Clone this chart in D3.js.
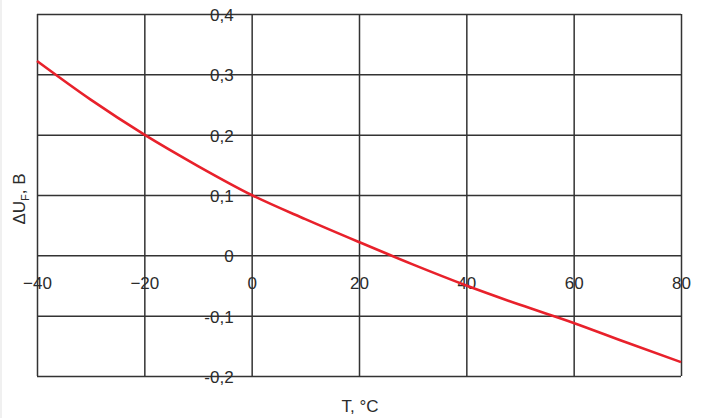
<!DOCTYPE html>
<html>
<head>
<meta charset="utf-8">
<script src="https://cdn.jsdelivr.net/npm/d3@7"></script>
<style>
  html, body { margin: 0; padding: 0; background: #fff; }
  svg { display: block; }
  text { font-family: "Liberation Sans", Arial, sans-serif; }
</style>
</head>
<body>
<svg id="chart" width="702" height="418"></svg>
<script>
// ---- data ----
const temps = [-40, -30, -20, -10, 0, 10, 20, 30, 40, 50, 60, 70, 80];
const deltaU = [0.322, 0.258, 0.200, 0.148, 0.100, 0.060, 0.022, -0.015, -0.050, -0.082, -0.112, -0.145, -0.177];
const xTicks = [-40, -20, 0, 20, 40, 60, 80];
const xTickLabels = ["\u221240", "\u221220", "0", "20", "40", "60", "80"];
const yTicks = [-0.2, -0.1, 0, 0.1, 0.2, 0.3, 0.4];
const yTickLabels = ["-0,2", "-0,1", "0", "0,1", "0,2", "0,3", "0,4"];
const xTitle = "T, °C";

// ---- layout ----
const svg = d3.select("#chart");
const mLeft = 37, mRight = 681, mTop = 14, mBottom = 376;
const x = d3.scaleLinear().domain([-40, 80]).range([mLeft, mRight]);
const y = d3.scaleLinear().domain([-0.2, 0.4]).range([mBottom, mTop]);
const gridColor = "#333";
const textColor = "#2b2b2b";

// light strip on the far left
svg.append("rect").attr("x", 0).attr("y", 0).attr("width", 2).attr("height", 418).attr("fill", "#f0f0f0");

// vertical grid via axis
const gx = svg.append("g").attr("transform", `translate(0,${mBottom})`)
  .call(d3.axisBottom(x).tickValues(xTicks).tickSize(-(mBottom - mTop)).tickFormat(""));
gx.select(".domain").remove();
gx.selectAll("line").attr("stroke", gridColor).attr("stroke-width", 1.5);

// horizontal grid via axis
const gy = svg.append("g").attr("transform", `translate(${mLeft},0)`)
  .call(d3.axisLeft(y).tickValues(yTicks).tickSize(-(mRight - mLeft)).tickFormat(""));
gy.select(".domain").remove();
gy.selectAll("line").attr("stroke", gridColor).attr("stroke-width", 1.5);

// x tick labels along the zero line
const xl = svg.append("g").attr("transform", `translate(0,${y(0)})`)
  .call(d3.axisBottom(x).tickValues(xTicks).tickSize(0).tickPadding(0)
    .tickFormat((d, i) => xTickLabels[i]));
xl.select(".domain").remove();
xl.selectAll("text").attr("font-size", 17).attr("fill", textColor)
  .attr("font-family", "Liberation Sans, Arial, sans-serif")
  .attr("y", 34).attr("dy", 0);

// y tick labels next to the zero vertical line
const yl = svg.append("g").attr("transform", `translate(${x(0) - 18},0)`)
  .call(d3.axisLeft(y).tickValues(yTicks).tickSize(0).tickPadding(0)
    .tickFormat((d, i) => yTickLabels[i]));
yl.select(".domain").remove();
yl.selectAll("text").attr("font-size", 17).attr("fill", textColor)
  .attr("font-family", "Liberation Sans, Arial, sans-serif")
  .attr("x", 0).attr("dy", "0.38em");

// curve
const line = d3.line().x(d => x(d[0])).y(d => y(d[1])).curve(d3.curveMonotoneX);
svg.append("path")
  .datum(temps.map((t, i) => [t, deltaU[i]]))
  .attr("d", line)
  .attr("fill", "none")
  .attr("stroke", "#e8212b")
  .attr("stroke-width", 2.6);

// axis titles
svg.append("text").attr("x", 360).attr("y", 412).attr("text-anchor", "middle")
  .attr("font-size", 17).attr("fill", textColor).text(xTitle);

const yt = svg.append("text")
  .attr("transform", "translate(25,199) rotate(-90)")
  .attr("text-anchor", "middle").attr("font-size", 17).attr("fill", textColor);
yt.append("tspan").text("\u0394U");
yt.append("tspan").attr("font-size", 11).attr("dy", 4).text("F");
yt.append("tspan").attr("dy", -4).text(", B");
</script>
</body>
</html>
